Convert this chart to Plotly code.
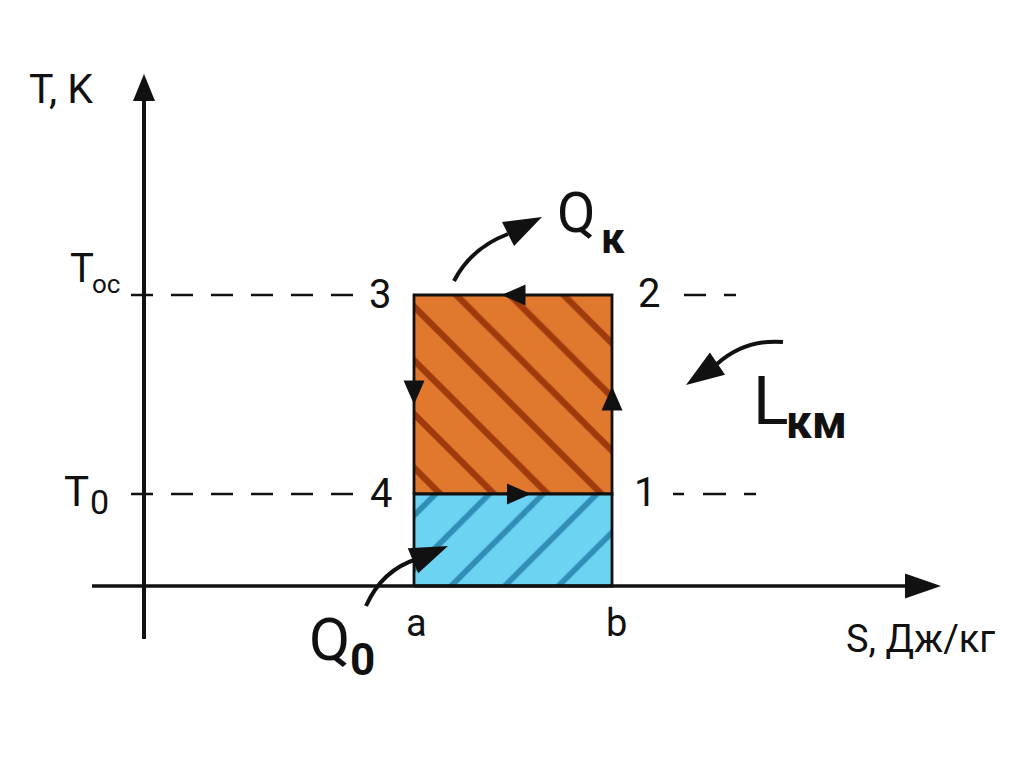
import math
import plotly.graph_objects as go

# ---- data: refrigeration cycle in T-S coordinates (arbitrary units) ----
S_points = {"a": 2.70, "b": 4.68}          # entropy of the two adiabats
T_levels = {"T0": 0.92, "Toc": 2.91}       # evaporation / ambient temperature
cycle_labels = ["1", "2", "3", "4"]
cycle_S = [S_points["b"], S_points["b"], S_points["a"], S_points["a"]]
cycle_T = [T_levels["T0"], T_levels["Toc"], T_levels["Toc"], T_levels["T0"]]
axis_S_max = 7.97
axis_T_max = 5.12

FONT = "Roboto"
BLACK = "#111111"
ORANGE_BG, ORANGE_FG = "#E0792E", "#9E3A0C"
BLUE_BG, BLUE_FG = "#6CD3F3", "#2F8DB6"

Sa, Sb = S_points["a"], S_points["b"]
T0, Toc = T_levels["T0"], T_levels["Toc"]

fig = go.Figure()

# work area L (orange) between T0 and Toc
fig.add_trace(go.Scatter(
    x=[Sa, Sb, Sb, Sa, Sa], y=[T0, T0, Toc, Toc, T0], mode="lines",
    fill="toself", fillcolor=ORANGE_BG,
    fillpattern=dict(shape="\\", fgcolor=ORANGE_FG, bgcolor=ORANGE_BG, size=38, solidity=0.17, fillmode="replace"),
    line=dict(color=BLACK, width=2.8), hoverinfo="skip", showlegend=False))
# refrigeration heat Q0 (blue) between 0 and T0
fig.add_trace(go.Scatter(
    x=[Sa, Sb, Sb, Sa, Sa], y=[0, 0, T0, T0, 0], mode="lines",
    fill="toself", fillcolor=BLUE_BG,
    fillpattern=dict(shape="/", fgcolor=BLUE_FG, bgcolor=BLUE_BG, size=38, solidity=0.15, fillmode="replace"),
    line=dict(color=BLACK, width=2.8), hoverinfo="skip", showlegend=False))

shapes = []

def tri(tip, direction, length, width):
    dx, dy = direction
    n = math.hypot(dx, dy)
    ux, uy = dx / n, dy / n
    bx, by = tip[0] - ux * length, tip[1] - uy * length
    px, py = -uy * width / 2, ux * width / 2
    return dict(type="path", layer="above", fillcolor=BLACK, line=dict(width=0),
                path=f"M {tip[0]},{tip[1]} L {bx+px},{by+py} L {bx-px},{by-py} Z")

# dashed guide lines
def dash(x0, x1, y, pattern="22px,18px"):
    shapes.append(dict(type="line", layer="below", x0=x0, x1=x1, y0=y, y1=y,
                       line=dict(color=BLACK, width=2.4, dash=pattern)))
dash(-0.13, Sa - 0.61, Toc)
dash(-0.13, Sa - 0.61, T0)
dash(Sb + 0.72, Sb + 1.24, Toc)
dash(Sb + 0.61, Sb + 1.44, T0, "11px,19px,23px,18px,12px,60px")

# axes
shapes.append(dict(type="line", layer="above", x0=0, x1=0, y0=-0.53, y1=axis_T_max - 0.2,
                   line=dict(color=BLACK, width=4)))
shapes.append(tri((0, axis_T_max), (0, 1), 0.27, 0.22))
shapes.append(dict(type="line", layer="above", x0=-0.52, x1=axis_S_max - 0.3, y0=0, y1=0,
                   line=dict(color=BLACK, width=3.5)))
shapes.append(tri((axis_S_max, 0), (1, 0), 0.36, 0.25))

# direction arrows on the cycle
midS, midT = (Sa + Sb) / 2, (T0 + Toc) / 2
shapes.append(tri((midS - 0.115, Toc), (-1, 0), 0.24, 0.21))
shapes.append(tri((Sa, midT - 0.10), (0, -1), 0.24, 0.21))
shapes.append(tri((Sb, midT + 0.08), (0, 1), 0.24, 0.21))
shapes.append(tri((midS + 0.18, T0), (1, 0), 0.24, 0.21))

# curved arrows (quadratic curves + heads)
def curved(p0, p1, p2, tip):
    shapes.append(dict(type="path", layer="above", line=dict(color=BLACK, width=4),
                       path=f"M {p0[0]},{p0[1]} Q {p1[0]},{p1[1]} {p2[0]},{p2[1]}"))
    shapes.append(tri(tip, (tip[0] - p2[0], tip[1] - p2[1]), 0.38, 0.27))
curved((3.10, 3.05), (3.27, 3.38), (3.64, 3.52), (3.98, 3.69))
curved((6.39, 2.44), (6.01, 2.47), (5.73, 2.22), (5.42, 2.01))
curved((2.22, -0.20), (2.38, 0.16), (2.73, 0.27), (3.04, 0.40))

fig.update_layout(shapes=shapes)

annotations = []
def label(text, x, y, size, bold=False, xanchor="center"):
    t = f"<b>{text}</b>" if bold else text
    annotations.append(dict(text=t, x=x, y=y, xref="x", yref="y", showarrow=False,
                            xanchor=xanchor, yanchor="middle",
                            font=dict(family=FONT, size=size, color=BLACK)))

label("T, K", -0.83, 4.97, 41)
label("T", -0.62, Toc + 0.27, 40)
label("ос", -0.38, Toc + 0.11, 26)
label("T", -0.68, T0 + 0.03, 42)
label("0", -0.45, T0 - 0.08, 34)
offs = {"1": (0.33, 0.02), "2": (0.37, 0.02), "3": (-0.34, 0.01), "4": (-0.33, 0.01)}
for lab, s, t in zip(cycle_labels, cycle_S, cycle_T):
    label(lab, s + offs[lab][0], t + offs[lab][1], 40)
label("a", Sa + 0.02, -0.37, 38)
label("b", Sb + 0.04, -0.37, 38)
label("S, Дж/кг", 7.76, -0.53, 38)
label("Q", 4.32, 3.73, 56)
label("к", 4.69, 3.48, 42, bold=True)
label("L", 6.27, 1.85, 66)
label("км", 6.72, 1.64, 46, bold=True)
label("Q", 1.85, -0.53, 60)
label("0", 2.18, -0.74, 44, bold=True)

# page body adds ~7px offset; ranges compensate so S=0,T=0 sits at page pixel (143,585)
fig.update_layout(
    annotations=annotations,
    width=1024, height=768,
    margin=dict(l=0, r=0, t=0, b=0),
    paper_bgcolor="white", plot_bgcolor="white",
    xaxis=dict(range=[-1.36, 8.88], visible=False, fixedrange=True),
    yaxis=dict(range=[-1.90, 5.78], visible=False, fixedrange=True),
    showlegend=False,
)

fig.write_html("out.html", config={"displayModeBar": False})
